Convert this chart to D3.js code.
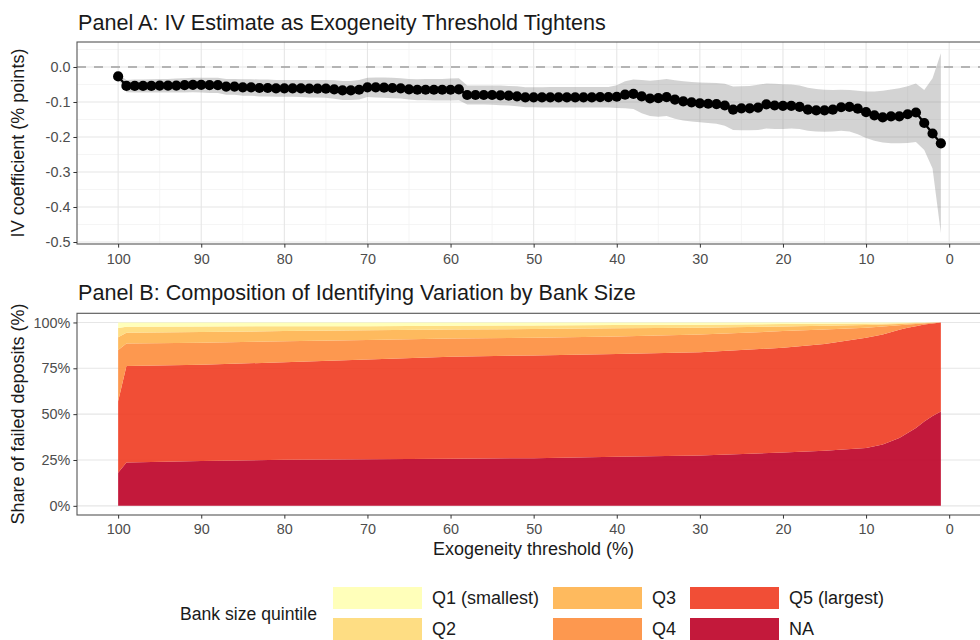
<!DOCTYPE html>
<html lang="en">
<head>
    <meta charset="UTF-8">
    <title>IV estimate and identifying variation</title>
    <style>
        body { margin: 0; background: #fff; }
        svg text { font-family: "Liberation Sans", Arial, sans-serif; }
        .tick text { fill: #4d4d4d; font-size: 14.4px; }
        .tick line { stroke: #333; }
    </style>
    <script src="https://d3js.org/d3.v7.min.js"></script>
</head>
<body>
<svg id="chart" width="980" height="640"></svg>

<script>
    // thresholds run from 100 down to 1
    const thresholds = d3.range(100, 0, -1);

    const ivEstimate = [
        -0.027, -0.054, -0.054, -0.054, -0.054, -0.053, -0.053, -0.053, -0.052, -0.051,
        -0.051, -0.052, -0.052, -0.056, -0.056, -0.058, -0.058, -0.060, -0.060, -0.061,
        -0.061, -0.061, -0.061, -0.062, -0.062, -0.062, -0.064, -0.067, -0.067, -0.065,
        -0.058, -0.058, -0.059, -0.060, -0.061, -0.064, -0.065, -0.065, -0.065, -0.065,
        -0.065, -0.064, -0.080, -0.080, -0.080, -0.080, -0.081, -0.082, -0.084, -0.087,
        -0.087, -0.087, -0.087, -0.087, -0.087, -0.087, -0.087, -0.087, -0.086, -0.086,
        -0.085, -0.079, -0.077, -0.084, -0.090, -0.089, -0.086, -0.093, -0.098, -0.101,
        -0.104, -0.105, -0.106, -0.110, -0.122, -0.118, -0.118, -0.116, -0.107, -0.110,
        -0.111, -0.111, -0.114, -0.122, -0.124, -0.124, -0.122, -0.115, -0.114, -0.119,
        -0.129, -0.138, -0.144, -0.141, -0.141, -0.135, -0.130, -0.160, -0.190, -0.218
    ];
    const ivLower = [
        -0.034, -0.072, -0.073, -0.073, -0.073, -0.073, -0.073, -0.073, -0.073, -0.072,
        -0.073, -0.074, -0.074, -0.079, -0.079, -0.082, -0.082, -0.084, -0.084, -0.085,
        -0.085, -0.085, -0.086, -0.087, -0.087, -0.088, -0.091, -0.094, -0.094, -0.093,
        -0.086, -0.087, -0.088, -0.089, -0.090, -0.093, -0.095, -0.095, -0.096, -0.096,
        -0.096, -0.095, -0.107, -0.107, -0.107, -0.108, -0.109, -0.110, -0.112, -0.115,
        -0.115, -0.116, -0.116, -0.116, -0.116, -0.116, -0.116, -0.116, -0.116, -0.116,
        -0.117, -0.118, -0.120, -0.132, -0.140, -0.142, -0.140, -0.148, -0.153, -0.156,
        -0.158, -0.160, -0.162, -0.168, -0.180, -0.181, -0.181, -0.180, -0.176, -0.177,
        -0.177, -0.176, -0.177, -0.182, -0.184, -0.185, -0.184, -0.182, -0.184, -0.192,
        -0.203, -0.211, -0.216, -0.218, -0.218, -0.217, -0.214, -0.237, -0.290, -0.475
    ];
    const ivUpper = [
        -0.020, -0.037, -0.036, -0.036, -0.035, -0.034, -0.034, -0.033, -0.032, -0.031,
        -0.031, -0.031, -0.031, -0.034, -0.034, -0.035, -0.035, -0.036, -0.036, -0.037,
        -0.037, -0.037, -0.037, -0.037, -0.037, -0.037, -0.038, -0.040, -0.040, -0.037,
        -0.031, -0.030, -0.030, -0.031, -0.032, -0.034, -0.035, -0.034, -0.034, -0.034,
        -0.033, -0.032, -0.053, -0.053, -0.053, -0.053, -0.053, -0.054, -0.055, -0.058,
        -0.058, -0.058, -0.057, -0.057, -0.057, -0.057, -0.057, -0.057, -0.057, -0.057,
        -0.052, -0.041, -0.036, -0.037, -0.039, -0.037, -0.034, -0.038, -0.041, -0.043,
        -0.044, -0.045, -0.046, -0.048, -0.056, -0.055, -0.054, -0.051, -0.047, -0.048,
        -0.049, -0.050, -0.053, -0.059, -0.063, -0.065, -0.066, -0.065, -0.066, -0.068,
        -0.070, -0.070, -0.068, -0.064, -0.061, -0.055, -0.047, -0.066, -0.032, 0.039
    ];

    // panel B: share of failed deposits (%) by bank size quintile
    const shareThresholds = [100, 99, 90, 80, 70, 60, 50, 40, 30, 20, 15, 10, 8, 6, 5, 4, 3, 2, 1];
    const shareNA = [18, 23.7, 24.5, 25.1, 25.4, 25.7, 26, 26.7, 27.5, 29.1, 30, 31.5, 33.5, 37, 39.7, 42.5, 46, 49, 51.5];
    const shareQ5 = [39, 52.5, 52.5, 53.2, 54.4, 55.6, 56, 56.1, 56.3, 57.1, 58.3, 60.1, 60, 59, 57.4, 55.5, 52.9, 50.5, 48.5];
    const shareQ4 = [28, 12.3, 12, 11.5, 10.7, 10, 9.6, 9.6, 9.6, 9.1, 7.9, 5.5, 4.3, 2.5, 1.8, 1.2, 0.6, 0.3, 0];
    const shareQ3 = [7, 5.9, 5.8, 5.5, 5.2, 4.9, 4.8, 4.4, 3.7, 2.5, 2, 1.5, 1.1, 0.7, 0.5, 0.4, 0.2, 0.1, 0];
    const shareQ2 = [5, 3.2, 3, 2.7, 2.3, 2, 2, 1.8, 1.7, 1.3, 1.1, 0.8, 0.6, 0.4, 0.3, 0.2, 0.2, 0.1, 0];
    const shareQ1 = [3, 2.4, 2.2, 2, 2, 1.8, 1.6, 1.4, 1.2, 0.9, 0.7, 0.6, 0.5, 0.4, 0.3, 0.2, 0.1, 0, 0];

    const quintileKeys = ["NA", "Q5", "Q4", "Q3", "Q2", "Q1"];
    const quintileLabels = {Q1: "Q1 (smallest)", Q2: "Q2", Q3: "Q3", Q4: "Q4", Q5: "Q5 (largest)", NA: "NA"};
    const quintileColors = {Q1: "#ffffb2", Q2: "#fed976", Q3: "#feb24c", Q4: "#fd8d3c", Q5: "#f03b20", NA: "#bd0026"};
    const legendOrder = ["Q1", "Q2", "Q3", "Q4", "Q5", "NA"];

    const xTicks = [100, 90, 80, 70, 60, 50, 40, 30, 20, 10, 0];
    const xMinor = [95, 85, 75, 65, 55, 45, 35, 25, 15, 5];
    const ivTicks = [0, -0.1, -0.2, -0.3, -0.4, -0.5];
    const ivMinor = [0.05, -0.05, -0.15, -0.25, -0.35, -0.45];
    const shareTicks = [0, 25, 50, 75, 100];

    const svg = d3.select("#chart");
    const left = 77, right = 982;

    const x = d3.scaleLinear().domain([104.95, -3.95]).range([left, right]);
    const yA = d3.scaleLinear().domain([-0.5057, 0.0714]).range([244, 42]);
    const yB = d3.scaleLinear().domain([-5, 105]).range([515, 313.3]);

    function gridLines(g, vals, scale, horizontal, colour, width, y0, y1) {
        vals.forEach(function (v) {
            if (horizontal) {
                g.append("line").attr("x1", left).attr("x2", right)
                    .attr("y1", scale(v)).attr("y2", scale(v));
            } else {
                g.append("line").attr("x1", scale(v)).attr("x2", scale(v))
                    .attr("y1", y0).attr("y2", y1);
            }
        });
        g.selectAll("line").attr("stroke", colour).attr("stroke-width", width);
    }

    // ---------- Panel A ----------
    const gA = svg.append("g");
    gridLines(gA.append("g"), ivMinor, yA, true, "#f2f2f2", 0.8);
    gridLines(gA.append("g"), xMinor, x, false, "#f2f2f2", 0.8, 42, 244);
    gridLines(gA.append("g"), ivTicks, yA, true, "#e6e6e6", 1.1);
    gridLines(gA.append("g"), xTicks, x, false, "#e6e6e6", 1.1, 42, 244);

    const ivData = thresholds.map(function (t, i) {
        return {t: t, est: ivEstimate[i], lo: ivLower[i], hi: ivUpper[i]};
    });

    gA.append("path")
        .datum(ivData)
        .attr("fill", "#808080")
        .attr("fill-opacity", 0.35)
        .attr("d", d3.area().x(d => x(d.t)).y0(d => yA(d.lo)).y1(d => yA(d.hi)));

    gA.append("line")
        .attr("x1", left).attr("x2", right)
        .attr("y1", yA(0)).attr("y2", yA(0))
        .attr("stroke", "#a0a0a0").attr("stroke-width", 1.6)
        .attr("stroke-dasharray", "9,8");

    gA.append("path")
        .datum(ivData)
        .attr("fill", "none")
        .attr("stroke", "#000")
        .attr("stroke-width", 2.2)
        .attr("d", d3.line().x(d => x(d.t)).y(d => yA(d.est)));

    gA.selectAll("circle")
        .data(ivData)
        .enter().append("circle")
        .attr("cx", d => x(d.t))
        .attr("cy", d => yA(d.est))
        .attr("r", 5.1)
        .attr("fill", "#000");

    gA.append("rect")
        .attr("x", left).attr("y", 42).attr("width", right - left).attr("height", 202)
        .attr("fill", "none").attr("stroke", "#555").attr("stroke-width", 1.1);

    const axA_y = gA.append("g").attr("transform", "translate(" + left + ",0)")
        .call(d3.axisLeft(yA).tickValues(ivTicks).tickSize(3.6).tickPadding(3)
            .tickFormat(d => d.toFixed(1)));
    const axA_x = gA.append("g").attr("transform", "translate(0,244)")
        .call(d3.axisBottom(x).tickValues(xTicks).tickSize(3.6).tickPadding(6)
            .tickFormat(d3.format("d")));
    [axA_y, axA_x].forEach(a => a.select(".domain").remove());

    svg.append("text")
        .attr("x", 78).attr("y", 29.5)
        .attr("font-size", 21.6).attr("fill", "#1a1a1a")
        .text("Panel A: IV Estimate as Exogeneity Threshold Tightens");

    svg.append("text")
        .attr("transform", "translate(24,143) rotate(-90)")
        .attr("text-anchor", "middle")
        .attr("font-size", 18).attr("fill", "#1a1a1a")
        .text("IV coefficient (% points)");

    // ---------- Panel B ----------
    const gB = svg.append("g");
    gridLines(gB.append("g"), shareTicks, yB, true, "#e6e6e6", 1.1);

    const shareRows = shareThresholds.map(function (t, i) {
        return {t: t, NA: shareNA[i], Q5: shareQ5[i], Q4: shareQ4[i],
            Q3: shareQ3[i], Q2: shareQ2[i], Q1: shareQ1[i]};
    });
    const stacked = d3.stack().keys(quintileKeys)(shareRows);

    gB.selectAll("path.layer")
        .data(stacked)
        .enter().append("path")
        .attr("class", "layer")
        .attr("fill", d => quintileColors[d.key])
        .attr("fill-opacity", 0.9)
        .attr("d", d3.area()
            .x(d => x(d.data.t))
            .y0(d => yB(d[0]))
            .y1(d => yB(d[1])));

    gB.append("rect")
        .attr("x", left).attr("y", 313.3).attr("width", right - left).attr("height", 201.7)
        .attr("fill", "none").attr("stroke", "#555").attr("stroke-width", 1.1);

    const axB_y = gB.append("g").attr("transform", "translate(" + left + ",0)")
        .call(d3.axisLeft(yB).tickValues(shareTicks).tickSize(3.6).tickPadding(3)
            .tickFormat(d => d + "%"));
    const axB_x = gB.append("g").attr("transform", "translate(0,515)")
        .call(d3.axisBottom(x).tickValues(xTicks).tickSize(3.6).tickPadding(5.5)
            .tickFormat(d3.format("d")));
    [axB_y, axB_x].forEach(a => a.select(".domain").remove());

    svg.append("text")
        .attr("x", 78).attr("y", 299.5)
        .attr("font-size", 21.6).attr("fill", "#1a1a1a")
        .text("Panel B: Composition of Identifying Variation by Bank Size");

    svg.append("text")
        .attr("transform", "translate(24,414) rotate(-90)")
        .attr("text-anchor", "middle")
        .attr("font-size", 18).attr("fill", "#1a1a1a")
        .text("Share of failed deposits (%)");

    svg.append("text")
        .attr("x", (left + right) / 2 + 4).attr("y", 555)
        .attr("text-anchor", "middle")
        .attr("font-size", 18).attr("fill", "#1a1a1a")
        .text("Exogeneity threshold (%)");

    // ---------- Legend ----------
    const legend = svg.append("g");
    legend.append("text")
        .attr("x", 180).attr("y", 620)
        .attr("font-size", 17.6).attr("fill", "#1a1a1a")
        .text("Bank size quintile");

    const colX = [333, 553, 690];
    const rowY = [587, 618];
    legendOrder.forEach(function (k, i) {
        const cx = colX[Math.floor(i / 2)], cy = rowY[i % 2];
        legend.append("rect")
            .attr("x", cx).attr("y", cy).attr("width", 89).attr("height", 22)
            .attr("fill", quintileColors[k]).attr("fill-opacity", 0.9);
        legend.append("text")
            .attr("x", cx + 99).attr("y", cy + 17)
            .attr("font-size", 18).attr("fill", "#1a1a1a")
            .text(quintileLabels[k]);
    });
</script>
</body>
</html>
